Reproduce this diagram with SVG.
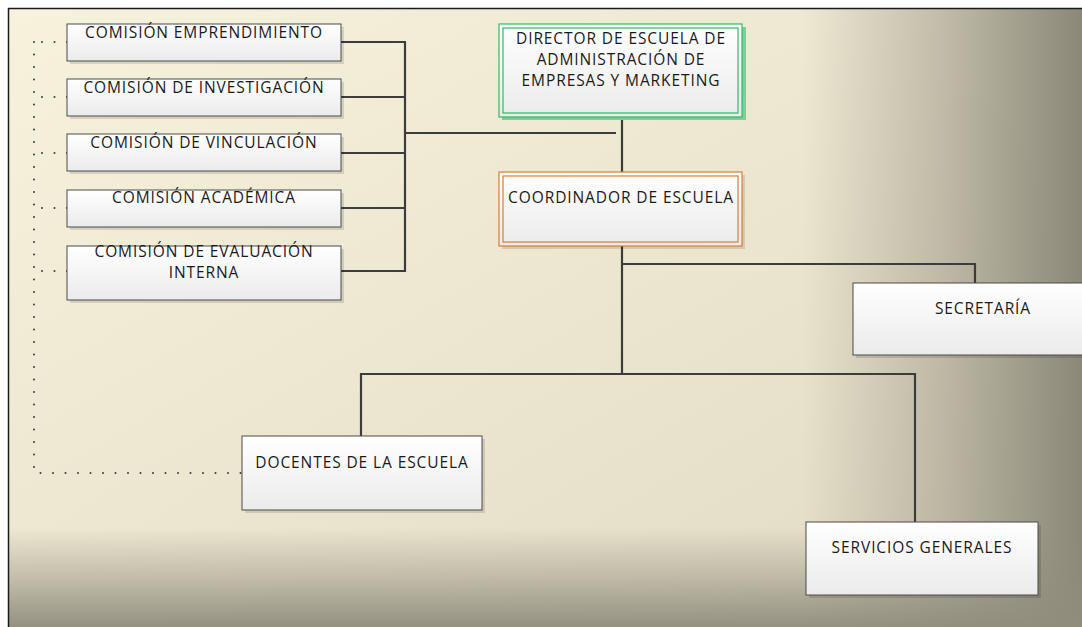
<svg xmlns="http://www.w3.org/2000/svg" width="1082" height="627" viewBox="0 0 1082 627">
  <defs>
    <!-- page background: cream fading to taupe on the right and along the bottom -->
    <linearGradient id="bgBase" x1="0" y1="0" x2="1" y2="1">
      <stop offset="0" stop-color="#f7f2dc"/>
      <stop offset="1" stop-color="#e0dac3"/>
    </linearGradient>
    <linearGradient id="bgRight" x1="0" y1="0" x2="1" y2="0">
      <stop offset="0.74" stop-color="#8b8878" stop-opacity="0"/>
      <stop offset="0.87" stop-color="#8b8878" stop-opacity="0.45"/>
      <stop offset="1" stop-color="#8b8878" stop-opacity="1"/>
    </linearGradient>
    <linearGradient id="bgBottom" x1="0" y1="0" x2="0" y2="1">
      <stop offset="0.84" stop-color="#908d7d" stop-opacity="0"/>
      <stop offset="0.92" stop-color="#908d7d" stop-opacity="0.45"/>
      <stop offset="1" stop-color="#908d7d" stop-opacity="0.95"/>
    </linearGradient>
    <linearGradient id="boxFill" x1="0" y1="0" x2="0" y2="1">
      <stop offset="0" stop-color="#ffffff"/>
      <stop offset="1" stop-color="#ebebeb"/>
    </linearGradient>
  </defs>
  <style>
    .box { fill: url(#boxFill); stroke: #4a4a4a; stroke-width: 1; }
    .shadow { fill: #000000; opacity: 0.12; }
    .lbl { font-family: "Open Sans", "Liberation Sans", sans-serif; font-size: 15.5px; letter-spacing: 0.9px; fill: #1a1a1a; text-anchor: middle; }
    .conn { fill: none; stroke: #3c3c3c; stroke-width: 2.2; }
    .dots { fill: none; stroke: #3c3c3c; stroke-width: 2; stroke-linecap: round; stroke-dasharray: 0 12.5; }
  </style>

  <!-- background -->
  <rect x="0" y="0" width="1082" height="627" fill="#ffffff"/>
  <rect x="8" y="8" width="1074" height="619" fill="url(#bgBase)"/>
  <rect x="8" y="8" width="1074" height="619" fill="url(#bgRight)"/>
  <rect x="8" y="8" width="1074" height="619" fill="url(#bgBottom)"/>
  <path d="M8.5 627 V8.5 H1082" fill="none" stroke="#1a1a1a" stroke-width="1.5"/>

  <!-- connectors -->
  <g id="connectors">
    <path class="conn" d="M341 42 H405 M341 97 H405 M341 153 H405 M341 208 H405 M341 271 H405 M405 41 V272"/>
    <path class="conn" d="M405 133 H616"/>
    <path class="conn" d="M622 117 V172"/>
    <path class="conn" d="M622 246 V374"/>
    <path class="conn" d="M622 264 H975 V283"/>
    <path class="conn" d="M361 436 V374 H915 V522"/>
    <path class="dots" d="M67 42 H34 M67 97 H34 M67 153 H34 M67 208 H34 M67 271 H34"/>
    <path class="dots" d="M34 42 V473 H242"/>
  </g>

  <!-- commissions -->
  <g id="comision-emprendimiento">
    <rect class="shadow" x="70" y="27" width="274" height="37"/>
    <rect class="box" x="67" y="24" width="274" height="37"/>
    <text class="lbl" x="204" y="38">COMISIÓN EMPRENDIMIENTO</text>
  </g>
  <g id="comision-investigacion">
    <rect class="shadow" x="70" y="82" width="274" height="37"/>
    <rect class="box" x="67" y="79" width="274" height="37"/>
    <text class="lbl" x="204" y="93">COMISIÓN DE INVESTIGACIÓN</text>
  </g>
  <g id="comision-vinculacion">
    <rect class="shadow" x="70" y="137" width="274" height="37"/>
    <rect class="box" x="67" y="134" width="274" height="37"/>
    <text class="lbl" x="204" y="148">COMISIÓN DE VINCULACIÓN</text>
  </g>
  <g id="comision-academica">
    <rect class="shadow" x="70" y="193" width="274" height="37"/>
    <rect class="box" x="67" y="190" width="274" height="37"/>
    <text class="lbl" x="204" y="203">COMISIÓN ACADÉMICA</text>
  </g>
  <g id="comision-evaluacion">
    <rect class="shadow" x="70" y="249" width="274" height="54"/>
    <rect class="box" x="67" y="246" width="274" height="54"/>
    <text class="lbl" x="204" y="257">COMISIÓN DE EVALUACIÓN</text>
    <text class="lbl" x="204" y="278">INTERNA</text>
  </g>

  <!-- director -->
  <g id="director">
    <rect x="502" y="27" width="244" height="93" fill="#7ccf97"/>
    <rect x="499" y="24" width="243" height="93" fill="url(#boxFill)" stroke="#2dbb63" stroke-width="1.2"/>
    <rect x="503" y="28" width="235" height="85" fill="none" stroke="#2dbb63" stroke-width="1.2"/>
    <text class="lbl" x="621" y="44">DIRECTOR DE ESCUELA DE</text>
    <text class="lbl" x="621" y="65">ADMINISTRACIÓN DE</text>
    <text class="lbl" x="621" y="86">EMPRESAS Y MARKETING</text>
  </g>

  <!-- coordinator -->
  <g id="coordinador">
    <rect class="shadow" x="502" y="175" width="243" height="74"/>
    <rect x="499" y="172" width="243" height="74" fill="url(#boxFill)" stroke="#e07a2e" stroke-width="1.2"/>
    <rect x="503" y="176" width="235" height="66" fill="none" stroke="#e07a2e" stroke-width="1.2"/>
    <text class="lbl" x="621" y="203">COORDINADOR DE ESCUELA</text>
  </g>

  <g id="secretaria">
    <rect class="shadow" x="856" y="286" width="260" height="72"/>
    <rect class="box" x="853" y="283" width="260" height="72"/>
    <text class="lbl" x="983" y="314">SECRETARÍA</text>
  </g>

  <g id="docentes">
    <rect class="shadow" x="245" y="439" width="240" height="74"/>
    <rect class="box" x="242" y="436" width="240" height="74"/>
    <text class="lbl" x="362" y="468">DOCENTES DE LA ESCUELA</text>
  </g>

  <g id="servicios">
    <rect class="shadow" x="809" y="525" width="232" height="73"/>
    <rect class="box" x="806" y="522" width="232" height="73"/>
    <text class="lbl" x="922" y="553">SERVICIOS GENERALES</text>
  </g>
</svg>
